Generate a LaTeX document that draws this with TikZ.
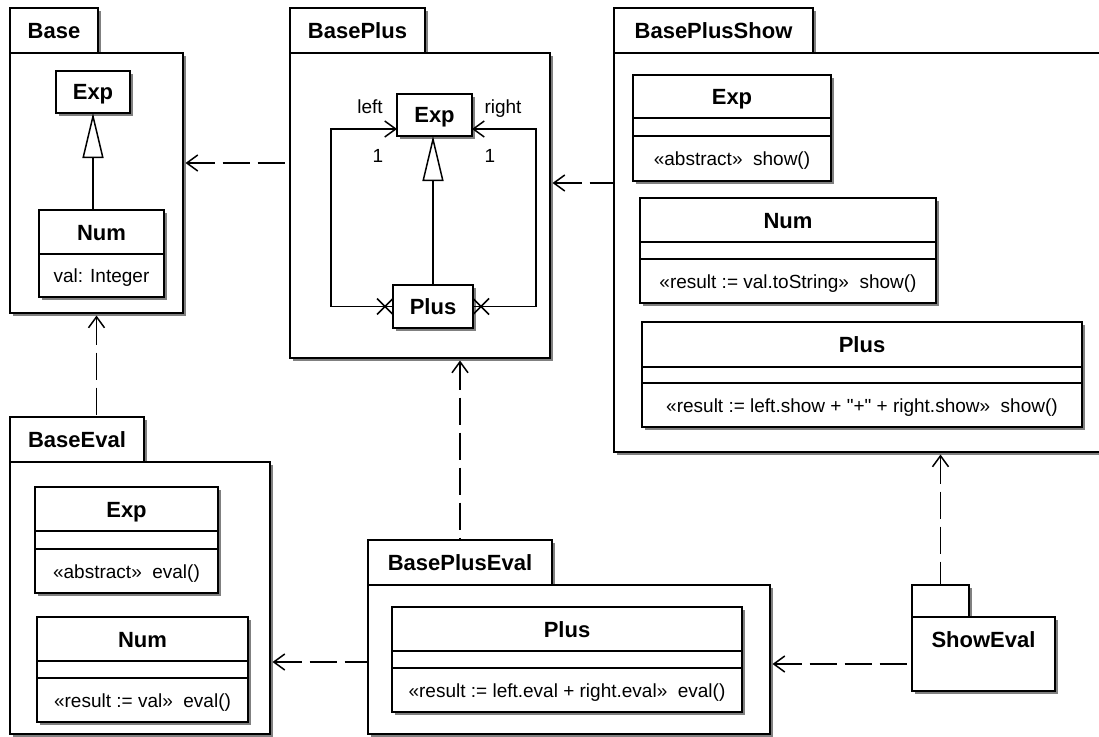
\documentclass[tikz,border=0pt]{standalone}
\usepackage{fontspec}
\setmainfont{Liberation Sans}[Ligatures=TeXOff]
\usetikzlibrary{arrows.meta,shadows}

\tikzset{
  shad/.style={drop shadow={shadow xshift=3pt, shadow yshift=-3pt, fill=black!50, opacity=1}},
  box/.style={draw, fill=white, line width=1.5pt, shad, inner sep=0pt, outer sep=0pt, anchor=north west},
  bfont/.style={font=\fontsize{22}{26}\selectfont\bfseries},
  rfont/.style={font=\fontsize{19}{22}\selectfont},
  pkgtab/.style={box, bfont, text height=15.75pt, text depth=0pt},
  pkgbody/.style={box},
  cls/.style={box},
  clsname/.style={box, bfont, text height=15.75pt, text depth=0pt},
  ctitle/.style={bfont, anchor=base, inner sep=0pt},
  cop/.style={rfont, anchor=base, inner sep=0pt},
  clbl/.style={rfont, anchor=base, inner sep=0pt},
  divider/.style={line width=1.5pt},
  dep/.style={line width=1.5pt, dash pattern=on 27pt off 8pt, shorten <=2.5pt,
    {Straight Barb[length=11pt,width=16pt]}-},
  assoc/.style={line width=1.5pt, -{Straight Barb[length=11pt,width=16pt]}},
  gen/.style={line width=1.5pt, -{Triangle[open, length=45pt, width=21pt]}},
  xmark/.style={line width=1.5pt},
}

\newcommand\umlclass[9]{%
  \node[cls, minimum width={(#4-#2)*1pt}, minimum height={(#5-#3)*1pt}] (#1) at (#2,#3) {};
  \draw[divider] (#2,#7) -- (#4,#7) (#2,#8) -- (#4,#8);
  \node[ctitle] (#1-t) at ({(#2+#4)/2},{(#3+#7)/2+8}) {#6};
  \node[cop] (#1-o) at ({(#2+#4)/2},{(#8+#5)/2+7}) {#9};
}

\begin{document}
\begin{tikzpicture}[x=1pt,y=-1pt]
\useasboundingbox (0,0) rectangle (1099,736);
\fill[white] (0,0) rectangle (1099,736);

% ---------- Base ----------
\node[pkgtab, minimum width=88, minimum height=45] (baseTab) at (10,8) {Base};
\node[pkgbody, minimum width=173, minimum height=260] (base) at (10,53) {};
\node[clsname, minimum width=74, minimum height=42] (bExp) at (56,71) {Exp};
\node[cls, minimum width=125, minimum height=87] (bNum) at (39,210) {};
\draw[divider] (39,254) -- (164,254);
\node[ctitle] (bNum-t) at (101.5,240) {Num};
\node[cop] (bNum-a) at (101.5,282.5) {val: Integer};
\draw[gen] (bNum.north -| bExp.south) -- (bExp.south);

% ---------- BasePlus ----------
\node[pkgtab, minimum width=135, minimum height=45] (basePlusTab) at (290,8) {BasePlus};
\node[pkgbody, minimum width=260, minimum height=305] (basePlus) at (290,53) {};
\node[clsname, minimum width=75, minimum height=42] (bpExp) at (397,94) {Exp};
\node[clsname, minimum width=80, minimum height=43] (bpPlus) at (393,285) {Plus};
\draw[gen] (bpPlus.north) -- (bpPlus.north |- bpExp.south);
\coordinate (la) at (331,129);
\coordinate (ra) at (536,129);
\draw[assoc] (bpPlus.west) -| (la) -- (bpExp.west |- la);
\draw[assoc] (bpPlus.east) -| (ra) -- (bpExp.east |- ra);
\draw[xmark] ([shift={(-16,-8)}]bpPlus.west) -- ++(16,16)
             ([shift={(-16,8)}]bpPlus.west) -- ++(16,-16);
\draw[xmark] ([shift={(0,-8)}]bpPlus.east) -- ++(16,16)
             ([shift={(0,8)}]bpPlus.east) -- ++(16,-16);
\node[clbl] (lLeft) at (370,113) {left};
\node[clbl] (lRight) at (503,113) {right};
\node[clbl] (lOneL) at (378,162) {1};
\node[clbl] (lOneR) at (490,162) {1};

% ---------- BasePlusShow ----------
\node[pkgtab, minimum width=199, minimum height=45] (bpShowTab) at (614,8) {BasePlusShow};
\node[pkgbody, minimum width=500, minimum height=399] (bpShow) at (614,53) {};
\umlclass{bpsExp}{633}{75}{831}{181}{Exp}{118}{136}{«abstract»\ \ show()}
\umlclass{bpsNum}{640}{198}{936}{303}{Num}{242}{259}{«result := val.toString»\ \ show()}
\umlclass{bpsPlus}{642}{322}{1082}{427}{Plus}{367}{383}{«result := left.show + "+" + right.show»\ \ show()}

% ---------- BaseEval ----------
\node[pkgtab, minimum width=134, minimum height=45] (baseEvalTab) at (10,417) {BaseEval};
\node[pkgbody, minimum width=260, minimum height=272] (baseEval) at (10,462) {};
\umlclass{beExp}{35}{487}{218}{593}{Exp}{531}{549}{«abstract»\ \ eval()}
\umlclass{beNum}{37}{617}{248}{722}{Num}{661}{678}{«result := val»\ \ eval()}

% ---------- BasePlusEval ----------
\node[pkgtab, minimum width=184, minimum height=45] (bpEvalTab) at (368,540) {BasePlusEval};
\node[pkgbody, minimum width=402, minimum height=149] (bpEval) at (368,585) {};
\umlclass{bpePlus}{392}{607}{742}{712}{Plus}{651}{668}{«result := left.eval + right.eval»\ \ eval()}

% ---------- ShowEval ----------
\node[pkgtab, minimum width=57, minimum height=32] (showEvalTab) at (912,585) {};
\node[pkgbody, minimum width=143, minimum height=74] (showEval) at (912,617) {};
\node[ctitle] (showEvalLbl) at (983.5,647) {ShowEval};

% ---------- dependencies ----------
\coordinate (y1) at (0,163);
\coordinate (y2) at (0,183);
\coordinate (y4) at (0,662);
\coordinate (y5) at (0,664);
\draw[dep] (base.east |- y1) -- (basePlus.west |- y1);
\draw[dep] (basePlus.east |- y2) -- (bpShow.west |- y2);
\draw[dep] (base.south) -- (base.south |- baseEvalTab.north);
\draw[dep] (basePlus.south -| bpEvalTab.north) -- (bpEvalTab.north);
\draw[dep] (bpShow.south -| showEvalTab.north) -- (showEvalTab.north);
\draw[dep] (baseEval.east |- y4) -- (bpEval.west |- y4);
\draw[dep] (bpEval.east |- y5) -- (showEval.west |- y5);
\end{tikzpicture}
\end{document}
